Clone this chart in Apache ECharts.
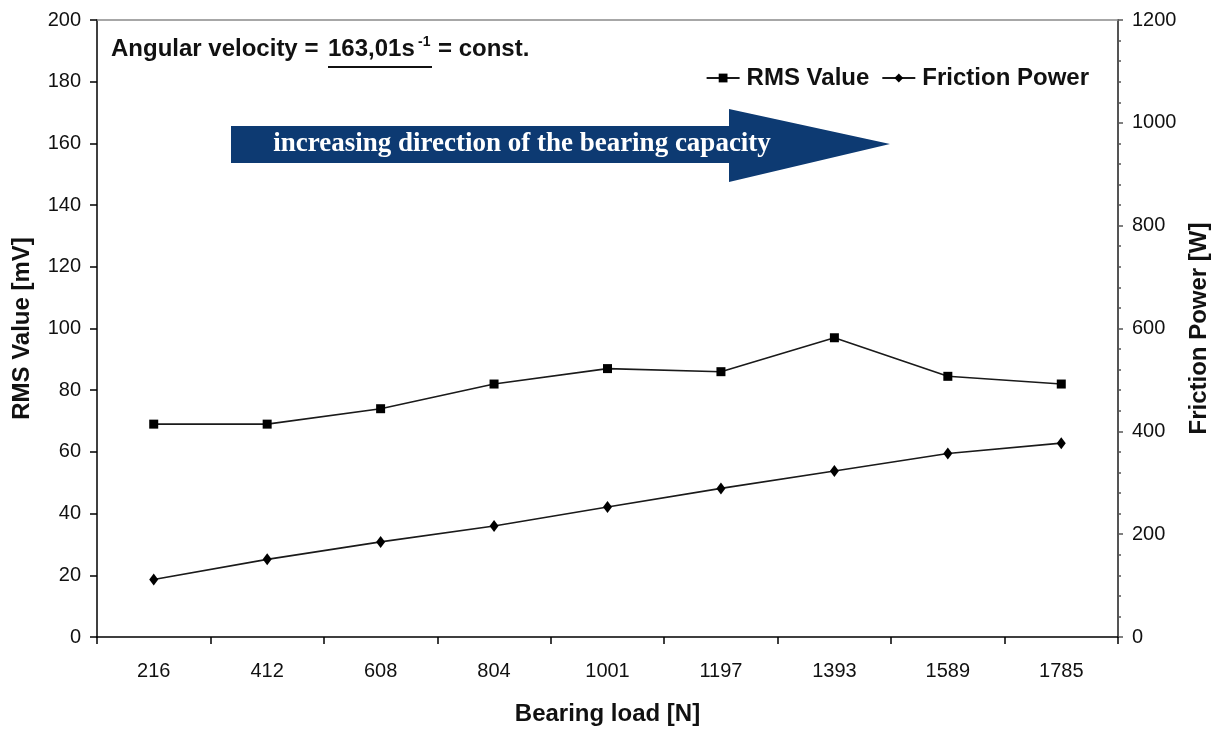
<!DOCTYPE html>
<html>
<head>
<meta charset="utf-8">
<title>RMS Value and Friction Power vs Bearing load</title>
<script src="https://cdn.jsdelivr.net/npm/echarts@6/dist/echarts.min.js"></script>
<style>
  html, body { margin: 0; padding: 0; background: #ffffff; overflow: hidden; }
  #chart { width: 1220px; height: 731px; }
</style>
</head>
<body>
<div id="chart"></div>
<script>
// data
const bearingLoads = ['216', '412', '608', '804', '1001', '1197', '1393', '1589', '1785'];
const rmsValues = [69, 69, 74, 82, 87, 86, 97, 84.5, 82];
const frictionPower = [112, 151, 185, 216, 253, 289, 323, 357, 377];

// axis ranges
const rmsAxis = { min: 0, max: 200, step: 20 };
const powerAxis = { min: 0, max: 1200, step: 200 };

const FONT = "'Liberation Sans', Arial, sans-serif";
const INK = '#111111';
const LINE = '#1a1a1a';
const ARROW_BLUE = '#0d3a72';

const chart = echarts.init(document.getElementById('chart'));

const option = {
  backgroundColor: '#ffffff',
  animation: false,
  grid: { left: 97, right: 102, top: 20, bottom: 90, containLabel: false },
  legend: {
    right: 126,
    top: 61,
    itemWidth: 33,
    itemHeight: 11,
    itemGap: 12,
    textStyle: { fontFamily: FONT, fontSize: 24, fontWeight: 'bold', color: INK, padding: [0, 0, 0, 2] },
    data: ['RMS Value', 'Friction Power']
  },
  xAxis: [
    {
      type: 'category',
      data: bearingLoads,
      boundaryGap: true,
      name: 'Bearing load [N]',
      nameLocation: 'middle',
      nameGap: 65,
      nameTextStyle: { fontFamily: FONT, fontSize: 24, fontWeight: 'bold', color: INK },
      axisLine: { lineStyle: { color: '#000000', width: 1.5 } },
      axisTick: { show: true, length: 7, lineStyle: { color: '#000000', width: 1.5 } },
      axisLabel: { fontFamily: FONT, fontSize: 20, color: INK, margin: 24 },
      splitLine: { show: false }
    },
    {
      // grey frame line along the top of the plot
      type: 'category',
      data: bearingLoads,
      position: 'top',
      axisLine: { show: true, onZero: false, lineStyle: { color: '#8a8a8a', width: 1.5 } },
      axisTick: { show: false },
      axisLabel: { show: false },
      splitLine: { show: false }
    }
  ],
  yAxis: [
    {
      type: 'value',
      min: rmsAxis.min,
      max: rmsAxis.max,
      interval: rmsAxis.step,
      position: 'left',
      name: 'RMS Value [mV]',
      nameLocation: 'middle',
      nameRotate: 90,
      nameGap: 63,
      nameTextStyle: { fontFamily: FONT, fontSize: 24, fontWeight: 'bold', color: INK },
      axisLine: { show: true, lineStyle: { color: '#000000', width: 1.5 } },
      axisTick: { show: true, length: 7, lineStyle: { color: '#000000', width: 1.5 } },
      axisLabel: { fontFamily: FONT, fontSize: 20, color: INK, margin: 16 },
      splitLine: { show: false }
    },
    {
      type: 'value',
      min: powerAxis.min,
      max: powerAxis.max,
      interval: powerAxis.step,
      position: 'right',
      name: 'Friction Power [W]',
      nameLocation: 'middle',
      nameRotate: 90,
      nameGap: 69,
      nameTextStyle: { fontFamily: FONT, fontSize: 24, fontWeight: 'bold', color: INK },
      axisLine: { show: true, lineStyle: { color: '#555555', width: 2 } },
      axisTick: { show: true, length: 5, lineStyle: { color: '#555555', width: 1.5 } },
      minorTick: { show: true, splitNumber: 5, length: 3, lineStyle: { color: '#555555', width: 1.5 } },
      axisLabel: { fontFamily: FONT, fontSize: 20, color: INK, margin: 14, formatter: v => String(v) },
      splitLine: { show: false }
    }
  ],
  series: [
    {
      name: 'RMS Value',
      type: 'line',
      yAxisIndex: 0,
      data: rmsValues,
      symbol: 'rect',
      symbolSize: 9,
      lineStyle: { color: LINE, width: 1.6 },
      itemStyle: { color: '#000000' }
    },
    {
      name: 'Friction Power',
      type: 'line',
      yAxisIndex: 1,
      data: frictionPower,
      symbol: 'diamond',
      symbolSize: [9, 12],
      lineStyle: { color: LINE, width: 1.6 },
      itemStyle: { color: '#000000' }
    }
  ],
  graphic: [
    // angular velocity note
    { type: 'text', x: 111, y: 49, style: { text: 'Angular velocity =', font: 'bold 24px ' + FONT, fill: INK, textVerticalAlign: 'middle', verticalAlign: 'middle' } },
    { type: 'text', x: 328, y: 49, style: { text: '163,01s', font: 'bold 24px ' + FONT, fill: INK, textVerticalAlign: 'middle', verticalAlign: 'middle' } },
    { type: 'text', x: 418, y: 42, style: { text: '-1', font: 'bold 14px ' + FONT, fill: INK, textVerticalAlign: 'middle', verticalAlign: 'middle' } },
    { type: 'text', x: 438, y: 49, style: { text: '= const.', font: 'bold 24px ' + FONT, fill: INK, textVerticalAlign: 'middle', verticalAlign: 'middle' } },
    { type: 'line', shape: { x1: 328, y1: 67, x2: 432, y2: 67 }, style: { stroke: INK, lineWidth: 2 } },
    // direction arrow
    {
      type: 'polygon',
      shape: { points: [[231, 126], [729, 126], [729, 109], [890, 144], [729, 182], [729, 163], [231, 163]] },
      style: { fill: ARROW_BLUE }
    },
    {
      type: 'text', x: 522, y: 144,
      style: {
        text: 'increasing direction of the bearing capacity',
        font: "bold 27px 'Liberation Serif', 'Times New Roman', serif",
        fill: '#ffffff',
        textAlign: 'center', align: 'center',
        textVerticalAlign: 'middle', verticalAlign: 'middle'
      }
    }
  ]
};

chart.setOption(option);
window.addEventListener('resize', () => chart.resize());
</script>
</body>
</html>
